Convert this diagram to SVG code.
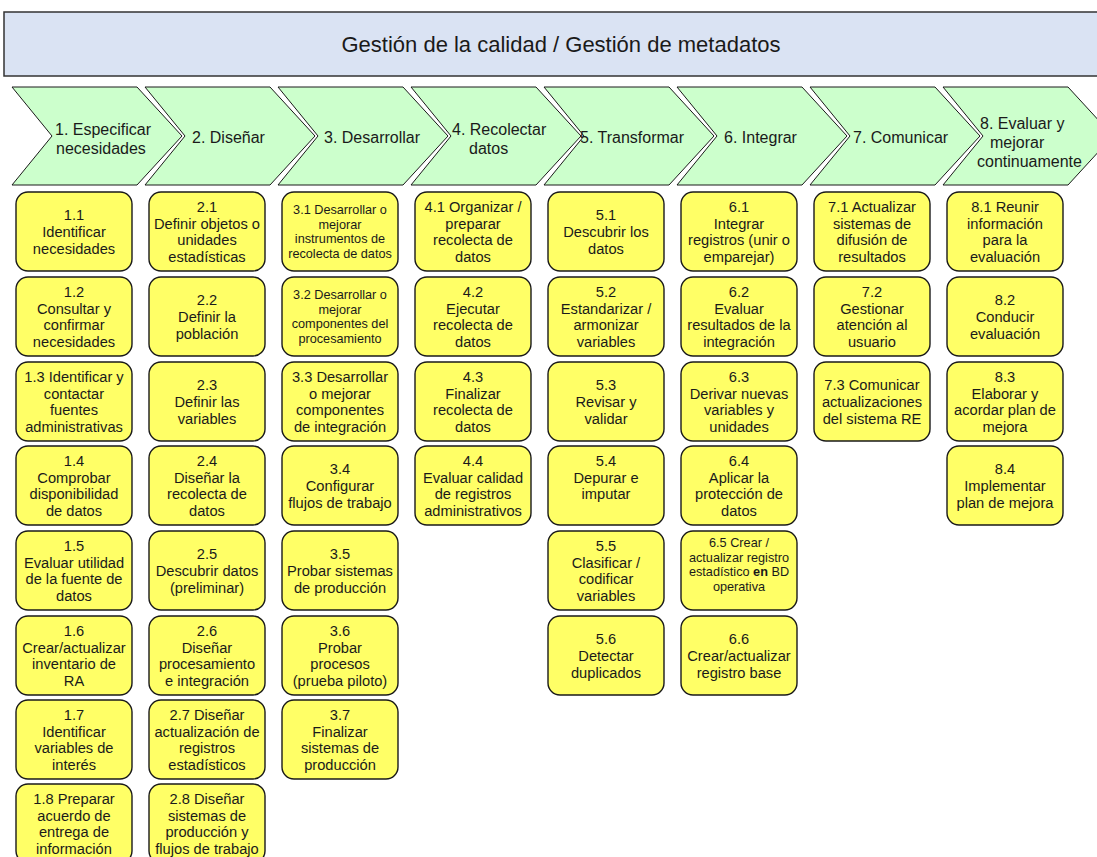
<svg xmlns="http://www.w3.org/2000/svg" width="1097" height="857" viewBox="0 0 1097 857">
<style>
.hdr{fill:#dae3f3;stroke:#333;stroke-width:1.5}
.chev{fill:#ccffcc;stroke:#1a1a1a;stroke-width:1}
.box{fill:#ffff66;stroke:#1a1a1a;stroke-width:1.4}
text{font-family:"Liberation Sans",Arial,sans-serif;fill:#1a1a1a}
.h{font-size:22px;text-anchor:middle}
.c{font-size:16px}
.t{font-size:14.67px;text-anchor:middle}
.s{font-size:12.7px;text-anchor:middle}
</style>
<rect width="1097" height="857" fill="#ffffff"/>
<g id="header">
<rect class="hdr" x="4" y="12" width="1100" height="64"/>
<text class="h" x="561" y="52">Gestión de la calidad / Gestión de metadatos</text>
</g>
<g id="phases">
<g id="p1"><polygon class="chev" points="12,87 137,87 182,136 137,185 12,185 52,136"/><text class="c"><tspan x="55" y="135">1. Especificar</tspan><tspan x="56" y="154">necesidades</tspan></text></g>
<g id="p2"><polygon class="chev" points="145,87 270,87 315,136 270,185 145,185 185,136"/><text class="c" x="192" y="143">2. Diseñar</text></g>
<g id="p3"><polygon class="chev" points="278,87 403,87 448,136 403,185 278,185 318,136"/><text class="c" x="324" y="143">3. Desarrollar</text></g>
<g id="p4"><polygon class="chev" points="411,87 536,87 581,136 536,185 411,185 451,136"/><text class="c"><tspan x="452" y="135">4. Recolectar</tspan><tspan x="469" y="154">datos</tspan></text></g>
<g id="p5"><polygon class="chev" points="544,87 669,87 714,136 669,185 544,185 584,136"/><text class="c" x="580" y="143">5. Transformar</text></g>
<g id="p6"><polygon class="chev" points="677,87 802,87 847,136 802,185 677,185 717,136"/><text class="c" x="724" y="143">6. Integrar</text></g>
<g id="p7"><polygon class="chev" points="810,87 935,87 980,136 935,185 810,185 850,136"/><text class="c" x="853" y="143">7. Comunicar</text></g>
<g id="p8"><polygon class="chev" points="943,87 1068,87 1113,136 1068,185 943,185 983,136"/><text class="c"><tspan x="980" y="129">8. Evaluar y</tspan><tspan x="990" y="148">mejorar</tspan><tspan x="977" y="167">continuamente</tspan></text></g>
</g>
<g id="connectors"/>
<g id="col1">
<g id="n1-1"><rect class="box" x="16" y="192" width="116" height="79" rx="12"/><text class="t"><tspan x="74" y="220.1">1.1</tspan><tspan x="74" y="236.8">Identificar</tspan><tspan x="74" y="253.5">necesidades</tspan></text></g>
<g id="n1-2"><rect class="box" x="16" y="277" width="116" height="79" rx="12"/><text class="t"><tspan x="74" y="296.8">1.2</tspan><tspan x="74" y="313.5">Consultar y</tspan><tspan x="74" y="330.2">confirmar</tspan><tspan x="74" y="346.9">necesidades</tspan></text></g>
<g id="n1-3"><rect class="box" x="16" y="362" width="116" height="79" rx="12"/><text class="t"><tspan x="74" y="381.8">1.3 Identificar y</tspan><tspan x="74" y="398.5">contactar</tspan><tspan x="74" y="415.2">fuentes</tspan><tspan x="74" y="431.9">administrativas</tspan></text></g>
<g id="n1-4"><rect class="box" x="16" y="446" width="116" height="79" rx="12"/><text class="t"><tspan x="74" y="465.8">1.4</tspan><tspan x="74" y="482.5">Comprobar</tspan><tspan x="74" y="499.2">disponibilidad</tspan><tspan x="74" y="515.9">de datos</tspan></text></g>
<g id="n1-5"><rect class="box" x="16" y="531" width="116" height="79" rx="12"/><text class="t"><tspan x="74" y="550.8">1.5</tspan><tspan x="74" y="567.5">Evaluar utilidad</tspan><tspan x="74" y="584.2">de la fuente de</tspan><tspan x="74" y="600.9">datos</tspan></text></g>
<g id="n1-6"><rect class="box" x="16" y="616" width="116" height="79" rx="12"/><text class="t"><tspan x="74" y="635.8">1.6</tspan><tspan x="74" y="652.5">Crear/actualizar</tspan><tspan x="74" y="669.2">inventario de</tspan><tspan x="74" y="685.9">RA</tspan></text></g>
<g id="n1-7"><rect class="box" x="16" y="700" width="116" height="79" rx="12"/><text class="t"><tspan x="74" y="719.8">1.7</tspan><tspan x="74" y="736.5">Identificar</tspan><tspan x="74" y="753.2">variables de</tspan><tspan x="74" y="769.9">interés</tspan></text></g>
<g id="n1-8"><rect class="box" x="16" y="784" width="116" height="79" rx="12"/><text class="t"><tspan x="74" y="803.8">1.8 Preparar</tspan><tspan x="74" y="820.5">acuerdo de</tspan><tspan x="74" y="837.2">entrega de</tspan><tspan x="74" y="853.9">información</tspan></text></g>
</g>
<g id="col2">
<g id="n2-1"><rect class="box" x="149" y="192" width="116" height="79" rx="12"/><text class="t"><tspan x="207" y="211.8">2.1</tspan><tspan x="207" y="228.5">Definir objetos o</tspan><tspan x="207" y="245.2">unidades</tspan><tspan x="207" y="261.9">estadísticas</tspan></text></g>
<g id="n2-2"><rect class="box" x="149" y="277" width="116" height="79" rx="12"/><text class="t"><tspan x="207" y="305.1">2.2</tspan><tspan x="207" y="321.8">Definir la</tspan><tspan x="207" y="338.5">población</tspan></text></g>
<g id="n2-3"><rect class="box" x="149" y="362" width="116" height="79" rx="12"/><text class="t"><tspan x="207" y="390.1">2.3</tspan><tspan x="207" y="406.8">Definir las</tspan><tspan x="207" y="423.5">variables</tspan></text></g>
<g id="n2-4"><rect class="box" x="149" y="446" width="116" height="79" rx="12"/><text class="t"><tspan x="207" y="465.8">2.4</tspan><tspan x="207" y="482.5">Diseñar la</tspan><tspan x="207" y="499.2">recolecta de</tspan><tspan x="207" y="515.9">datos</tspan></text></g>
<g id="n2-5"><rect class="box" x="149" y="531" width="116" height="79" rx="12"/><text class="t"><tspan x="207" y="559.1">2.5</tspan><tspan x="207" y="575.8">Descubrir datos</tspan><tspan x="207" y="592.5">(preliminar)</tspan></text></g>
<g id="n2-6"><rect class="box" x="149" y="616" width="116" height="79" rx="12"/><text class="t"><tspan x="207" y="635.8">2.6</tspan><tspan x="207" y="652.5">Diseñar</tspan><tspan x="207" y="669.2">procesamiento</tspan><tspan x="207" y="685.9">e integración</tspan></text></g>
<g id="n2-7"><rect class="box" x="149" y="700" width="116" height="79" rx="12"/><text class="t"><tspan x="207" y="719.8">2.7 Diseñar</tspan><tspan x="207" y="736.5">actualización de</tspan><tspan x="207" y="753.2">registros</tspan><tspan x="207" y="769.9">estadísticos</tspan></text></g>
<g id="n2-8"><rect class="box" x="149" y="784" width="116" height="79" rx="12"/><text class="t"><tspan x="207" y="803.8">2.8 Diseñar</tspan><tspan x="207" y="820.5">sistemas de</tspan><tspan x="207" y="837.2">producción y</tspan><tspan x="207" y="853.9">flujos de trabajo</tspan></text></g>
</g>
<g id="col3">
<g id="n3-1"><rect class="box" x="282" y="192" width="116" height="79" rx="12"/><text class="s"><tspan x="340" y="214.3">3.1 Desarrollar o</tspan><tspan x="340" y="228.8">mejorar</tspan><tspan x="340" y="243.3">instrumentos de</tspan><tspan x="340" y="257.8">recolecta de datos</tspan></text></g>
<g id="n3-2"><rect class="box" x="282" y="277" width="116" height="79" rx="12"/><text class="s"><tspan x="340" y="299.3">3.2 Desarrollar o</tspan><tspan x="340" y="313.8">mejorar</tspan><tspan x="340" y="328.3">componentes del</tspan><tspan x="340" y="342.8">procesamiento</tspan></text></g>
<g id="n3-3"><rect class="box" x="282" y="362" width="116" height="79" rx="12"/><text class="t"><tspan x="340" y="381.8">3.3 Desarrollar</tspan><tspan x="340" y="398.5">o mejorar</tspan><tspan x="340" y="415.2">componentes</tspan><tspan x="340" y="431.9">de integración</tspan></text></g>
<g id="n3-4"><rect class="box" x="282" y="446" width="116" height="79" rx="12"/><text class="t"><tspan x="340" y="474.1">3.4</tspan><tspan x="340" y="490.8">Configurar</tspan><tspan x="340" y="507.5">flujos de trabajo</tspan></text></g>
<g id="n3-5"><rect class="box" x="282" y="531" width="116" height="79" rx="12"/><text class="t"><tspan x="340" y="559.1">3.5</tspan><tspan x="340" y="575.8">Probar sistemas</tspan><tspan x="340" y="592.5">de producción</tspan></text></g>
<g id="n3-6"><rect class="box" x="282" y="616" width="116" height="79" rx="12"/><text class="t"><tspan x="340" y="635.8">3.6</tspan><tspan x="340" y="652.5">Probar</tspan><tspan x="340" y="669.2">procesos</tspan><tspan x="340" y="685.9">(prueba piloto)</tspan></text></g>
<g id="n3-7"><rect class="box" x="282" y="700" width="116" height="79" rx="12"/><text class="t"><tspan x="340" y="719.8">3.7</tspan><tspan x="340" y="736.5">Finalizar</tspan><tspan x="340" y="753.2">sistemas de</tspan><tspan x="340" y="769.9">producción</tspan></text></g>
</g>
<g id="col4">
<g id="n4-1"><rect class="box" x="415" y="192" width="116" height="79" rx="12"/><text class="t"><tspan x="473" y="211.8">4.1 Organizar /</tspan><tspan x="473" y="228.5">preparar</tspan><tspan x="473" y="245.2">recolecta de</tspan><tspan x="473" y="261.9">datos</tspan></text></g>
<g id="n4-2"><rect class="box" x="415" y="277" width="116" height="79" rx="12"/><text class="t"><tspan x="473" y="296.8">4.2</tspan><tspan x="473" y="313.5">Ejecutar</tspan><tspan x="473" y="330.2">recolecta de</tspan><tspan x="473" y="346.9">datos</tspan></text></g>
<g id="n4-3"><rect class="box" x="415" y="362" width="116" height="79" rx="12"/><text class="t"><tspan x="473" y="381.8">4.3</tspan><tspan x="473" y="398.5">Finalizar</tspan><tspan x="473" y="415.2">recolecta de</tspan><tspan x="473" y="431.9">datos</tspan></text></g>
<g id="n4-4"><rect class="box" x="415" y="446" width="116" height="79" rx="12"/><text class="t"><tspan x="473" y="465.8">4.4</tspan><tspan x="473" y="482.5">Evaluar calidad</tspan><tspan x="473" y="499.2">de registros</tspan><tspan x="473" y="515.9">administrativos</tspan></text></g>
</g>
<g id="col5">
<g id="n5-1"><rect class="box" x="548" y="192" width="116" height="79" rx="12"/><text class="t"><tspan x="606" y="220.1">5.1</tspan><tspan x="606" y="236.8">Descubrir los</tspan><tspan x="606" y="253.5">datos</tspan></text></g>
<g id="n5-2"><rect class="box" x="548" y="277" width="116" height="79" rx="12"/><text class="t"><tspan x="606" y="296.8">5.2</tspan><tspan x="606" y="313.5">Estandarizar /</tspan><tspan x="606" y="330.2">armonizar</tspan><tspan x="606" y="346.9">variables</tspan></text></g>
<g id="n5-3"><rect class="box" x="548" y="362" width="116" height="79" rx="12"/><text class="t"><tspan x="606" y="390.1">5.3</tspan><tspan x="606" y="406.8">Revisar y</tspan><tspan x="606" y="423.5">validar</tspan></text></g>
<g id="n5-4"><rect class="box" x="548" y="446" width="116" height="79" rx="12"/><text class="t"><tspan x="606" y="465.8">5.4</tspan><tspan x="606" y="482.5">Depurar e</tspan><tspan x="606" y="499.2">imputar</tspan></text></g>
<g id="n5-5"><rect class="box" x="548" y="531" width="116" height="79" rx="12"/><text class="t"><tspan x="606" y="550.8">5.5</tspan><tspan x="606" y="567.5">Clasificar /</tspan><tspan x="606" y="584.2">codificar</tspan><tspan x="606" y="600.9">variables</tspan></text></g>
<g id="n5-6"><rect class="box" x="548" y="616" width="116" height="79" rx="12"/><text class="t"><tspan x="606" y="644.1">5.6</tspan><tspan x="606" y="660.8">Detectar</tspan><tspan x="606" y="677.5">duplicados</tspan></text></g>
</g>
<g id="col6">
<g id="n6-1"><rect class="box" x="681" y="192" width="116" height="79" rx="12"/><text class="t"><tspan x="739" y="211.8">6.1</tspan><tspan x="739" y="228.5">Integrar</tspan><tspan x="739" y="245.2">registros (unir o</tspan><tspan x="739" y="261.9">emparejar)</tspan></text></g>
<g id="n6-2"><rect class="box" x="681" y="277" width="116" height="79" rx="12"/><text class="t"><tspan x="739" y="296.8">6.2</tspan><tspan x="739" y="313.5">Evaluar</tspan><tspan x="739" y="330.2">resultados de la</tspan><tspan x="739" y="346.9">integración</tspan></text></g>
<g id="n6-3"><rect class="box" x="681" y="362" width="116" height="79" rx="12"/><text class="t"><tspan x="739" y="381.8">6.3</tspan><tspan x="739" y="398.5">Derivar nuevas</tspan><tspan x="739" y="415.2">variables y</tspan><tspan x="739" y="431.9">unidades</tspan></text></g>
<g id="n6-4"><rect class="box" x="681" y="446" width="116" height="79" rx="12"/><text class="t"><tspan x="739" y="465.8">6.4</tspan><tspan x="739" y="482.5">Aplicar la</tspan><tspan x="739" y="499.2">protección de</tspan><tspan x="739" y="515.9">datos</tspan></text></g>
<g id="n6-5"><rect class="box" x="681" y="531" width="116" height="79" rx="12"/><text class="s"><tspan x="739" y="547.3">6.5 Crear /</tspan><tspan x="739" y="561.8">actualizar registro</tspan><tspan x="739" y="576.3">estadístico <tspan font-weight="bold">en</tspan> BD</tspan><tspan x="739" y="590.8">operativa</tspan></text></g>
<g id="n6-6"><rect class="box" x="681" y="616" width="116" height="79" rx="12"/><text class="t"><tspan x="739" y="644.1">6.6</tspan><tspan x="739" y="660.8">Crear/actualizar</tspan><tspan x="739" y="677.5">registro base</tspan></text></g>
</g>
<g id="col7">
<g id="n7-1"><rect class="box" x="814" y="192" width="116" height="79" rx="12"/><text class="t"><tspan x="872" y="211.8">7.1 Actualizar</tspan><tspan x="872" y="228.5">sistemas de</tspan><tspan x="872" y="245.2">difusión de</tspan><tspan x="872" y="261.9">resultados</tspan></text></g>
<g id="n7-2"><rect class="box" x="814" y="277" width="116" height="79" rx="12"/><text class="t"><tspan x="872" y="296.8">7.2</tspan><tspan x="872" y="313.5">Gestionar</tspan><tspan x="872" y="330.2">atención al</tspan><tspan x="872" y="346.9">usuario</tspan></text></g>
<g id="n7-3"><rect class="box" x="814" y="362" width="116" height="79" rx="12"/><text class="t"><tspan x="872" y="390.1">7.3 Comunicar</tspan><tspan x="872" y="406.8">actualizaciones</tspan><tspan x="872" y="423.5">del sistema RE</tspan></text></g>
</g>
<g id="col8">
<g id="n8-1"><rect class="box" x="947" y="192" width="116" height="79" rx="12"/><text class="t"><tspan x="1005" y="211.8">8.1 Reunir</tspan><tspan x="1005" y="228.5">información</tspan><tspan x="1005" y="245.2">para la</tspan><tspan x="1005" y="261.9">evaluación</tspan></text></g>
<g id="n8-2"><rect class="box" x="947" y="277" width="116" height="79" rx="12"/><text class="t"><tspan x="1005" y="305.1">8.2</tspan><tspan x="1005" y="321.8">Conducir</tspan><tspan x="1005" y="338.5">evaluación</tspan></text></g>
<g id="n8-3"><rect class="box" x="947" y="362" width="116" height="79" rx="12"/><text class="t"><tspan x="1005" y="381.8">8.3</tspan><tspan x="1005" y="398.5">Elaborar y</tspan><tspan x="1005" y="415.2">acordar plan de</tspan><tspan x="1005" y="431.9">mejora</tspan></text></g>
<g id="n8-4"><rect class="box" x="947" y="446" width="116" height="79" rx="12"/><text class="t"><tspan x="1005" y="474.1">8.4</tspan><tspan x="1005" y="490.8">Implementar</tspan><tspan x="1005" y="507.5">plan de mejora</tspan></text></g>
</g>
</svg>
